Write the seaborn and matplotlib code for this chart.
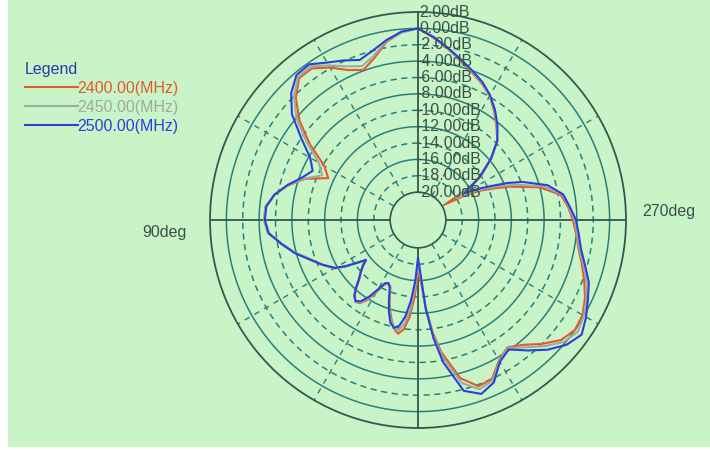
import numpy as np
import pandas as pd
import matplotlib
matplotlib.use('Agg')
import matplotlib.pyplot as plt
import seaborn as sns
from matplotlib.patches import Rectangle
from matplotlib.transforms import ScaledTranslation


# pattern data, angle in degrees (0 = top, counter clockwise), gain in dB
angle_deg = [0, 5, 10, 15, 20, 25, 30, 35, 40, 45, 50, 55, 60, 65, 70, 75, 80, 85, 90,
             95, 100, 105, 110, 115, 120, 122.5, 125, 127.5, 130, 132.5, 135, 137.5,
             140, 142.5, 145, 147.5, 150, 152.5, 155, 157.5, 160, 162.5, 165, 167.5,
             170, 172.5, 175, 177.5, 180, 182.5, 185, 187.5, 190, 195, 200, 205, 210,
             215, 220, 225, 230, 235, 240, 245, 250, 255, 260, 265, 270, 275, 280, 285,
             290, 292.5, 295, 297.5, 300, 302.5, 305, 310, 315, 320, 325, 330, 335, 340,
             345, 350, 355, 360]

gain_2400 = [0.0, -0.4, -1.3, -2.9, -3.9, -3.2, -1.9, -0.8, -0.8, -2.3, -4.5, -7.3, -10.2,
             -11.3, -8.7, -7.0, -5.6, -4.7, -4.6, -5.0, -6.5, -7.9, -9.4, -10.5, -11.6,
             -12.8, -14.2, -15.3, -14.5, -13.9, -13.3, -12.3, -11.4, -10.8, -11.0, -11.8,
             -13.2, -14.5, -14.8, -14.6, -13.3, -12.0, -10.9, -9.8, -9.3, -9.9, -11.5,
             -14.0, -17.0, -16.0, -12.6, -9.5, -7.0, -3.4, -1.8, -2.0, -3.6, -4.4, -3.5,
             -2.0, -0.6, 0.0, -0.2, -0.9, -1.8, -2.7, -3.5, -4.0, -4.5, -5.0, -5.7, -8.0,
             -11.5, -13.3, -14.9, -16.8, -19.5, -15.5, -14.0, -11.7, -9.7, -8.5, -7.2,
             -5.9, -5.0, -4.2, -3.3, -2.2, -1.1, 0.0]

gain_2450 = [0.0, -0.4, -1.2, -2.6, -3.4, -2.7, -1.6, -0.5, -0.6, -2.0, -4.0, -6.8, -9.4,
             -10.5, -8.6, -7.0, -5.6, -4.7, -4.6, -5.0, -6.5, -7.9, -9.4, -10.5, -11.6,
             -12.8, -14.2, -15.3, -14.5, -13.9, -13.2, -12.2, -11.3, -10.8, -11.1, -12.0,
             -13.4, -14.6, -14.8, -14.5, -13.2, -11.8, -10.7, -9.8, -9.7, -10.6, -12.4,
             -15.0, -17.8, -16.5, -12.6, -9.2, -6.5, -2.8, -1.4, -1.8, -3.5, -4.3, -3.1,
             -1.6, -0.2, 0.4, 0.0, -0.7, -1.5, -2.5, -3.4, -3.9, -4.3, -4.9, -5.5, -7.5,
             -10.8, -12.6, -14.3, -16.0, -18.0, -15.6, -14.1, -11.7, -9.7, -8.4, -7.1,
             -5.9, -4.9, -4.1, -3.2, -2.2, -1.0, 0.0]

gain_2500 = [0.0, -0.3, -1.1, -2.0, -2.6, -1.9, -1.2, -0.2, -0.3, -1.5, -3.3, -6.0, -8.2,
             -9.2, -8.3, -6.9, -5.6, -4.8, -4.7, -5.1, -6.5, -7.8, -9.3, -10.5, -11.7,
             -12.9, -14.3, -15.4, -14.6, -13.9, -13.2, -12.2, -11.3, -10.9, -11.3, -12.3,
             -13.6, -14.7, -14.9, -14.4, -13.0, -11.6, -10.4, -9.9, -10.3, -11.5, -13.5,
             -16.0, -18.8, -17.0, -12.5, -8.8, -5.8, -1.8, -0.8, -1.5, -3.4, -4.1, -2.6,
             -1.0, 0.3, 1.0, 0.3, -0.5, -1.2, -2.3, -3.2, -3.7, -4.1, -4.8, -5.4, -7.0,
             -9.8, -11.6, -13.6, -15.2, -16.8, -15.8, -14.2, -11.8, -9.7, -8.3, -7.0,
             -5.8, -4.8, -4.0, -3.1, -2.1, -1.0, 0.0]

freq_labels = ['2400.00(MHz)', '2450.00(MHz)', '2500.00(MHz)']
db_levels = [2, 0, -2, -4, -6, -8, -10, -12, -14, -16, -18, -20]
ring_levels = [0, -2, -4, -6, -8, -10, -12, -14, -16, -18]
spoke_deg = [30, 60, 120, 150, 210, 240, 300, 330]
axis_deg = [0, 90, 180, 270]

colors = ['#e25a2e', '#9eab9e', '#2b40d6']
bg = '#c9f4c7'
ring_color = '#2a7f78'
dark = '#2f5a4c'
text_color = '#3a5045'

df = pd.DataFrame({
    'theta': np.deg2rad(angle_deg * 3),
    'gain': gain_2400 + gain_2450 + gain_2500,
    'freq': [freq_labels[0]] * len(angle_deg) + [freq_labels[1]] * len(angle_deg)
            + [freq_labels[2]] * len(angle_deg),
})

plt.rcParams['font.family'] = ['Liberation Sans', 'DejaVu Sans']

fig = plt.figure(figsize=(7.1, 4.5), dpi=100)
fig.patch.set_facecolor('white')
fig.patches.append(Rectangle((8 / 710, 3 / 450), 1, 1, transform=fig.transFigure,
                             facecolor=bg, edgecolor='none', zorder=-10))

ax = fig.add_axes([210 / 710, 22 / 450, 416 / 710, 416 / 450], projection='polar')
ax.set_facecolor(bg)
ax.set_theta_zero_location('N')
ax.set_theta_direction(1)
ax.set_ylim(-20, 2)
ax.set_rorigin(-23.4)
ax.grid(False)
ax.set_xticks([])
ax.set_yticks([])

sns.lineplot(data=df, x='theta', y='gain', hue='freq', hue_order=freq_labels,
             palette=colors, estimator=None, sort=False, legend=False,
             linewidth=1.5, ax=ax, zorder=3)
curves = ax.get_lines()[:3]
ax.set_xlabel('')
ax.set_ylabel('')

# rings
theta_ring = np.linspace(0, 2 * np.pi, 361)
for level in ring_levels:
    ls = '-' if level % 4 == 0 else (0, (4, 3))
    ax.plot(theta_ring, np.full_like(theta_ring, level), color=ring_color,
            lw=1.1, ls=ls, zorder=1)

# spokes
for a in spoke_deg:
    ax.plot([np.deg2rad(a)] * 2, [-20, 2], color=ring_color, lw=1.0,
            ls=(0, (4, 4)), zorder=1)
for a in axis_deg:
    ax.plot([np.deg2rad(a)] * 2, [-20, 2], color=dark, lw=1.3, zorder=2)

ax.spines['polar'].set_color(dark)
ax.spines['polar'].set_linewidth(1.3)
ax.spines['inner'].set_color(dark)
ax.spines['inner'].set_linewidth(1.2)

# radial labels along the top axis
for level in db_levels:
    dx = 1 if level >= 0 else -2
    off = ax.transData + ScaledTranslation(dx / 100, 0, fig.dpi_scale_trans)
    ax.text(0, level, f'{level:.2f}dB', transform=off, ha='left', va='center',
            fontsize=11.5, color=text_color, zorder=4)

ax.annotate('90deg', xy=(np.deg2rad(90), 2), xytext=(-33, -9),
            textcoords='offset points', ha='center', va='center',
            fontsize=11.5, color=text_color, annotation_clip=False)
ax.annotate('270deg', xy=(np.deg2rad(270), 2), xytext=(31, 6),
            textcoords='offset points', ha='center', va='center',
            fontsize=11.5, color=text_color, annotation_clip=False)

leg = ax.legend(curves, freq_labels, title='Legend', loc='upper left',
                bbox_to_anchor=(25 / 710, 1 - 62 / 450), bbox_transform=fig.transFigure,
                frameon=False, handlelength=3.3, handletextpad=0.0,
                labelspacing=0.25, fontsize=11.5, title_fontsize=11.5,
                alignment='left', borderaxespad=0, borderpad=0)
for t, c in zip(leg.get_texts(), colors):
    t.set_color(c)
leg.get_title().set_color('#2a3aa8')

fig.savefig('out.png', dpi=100, facecolor=fig.get_facecolor())
